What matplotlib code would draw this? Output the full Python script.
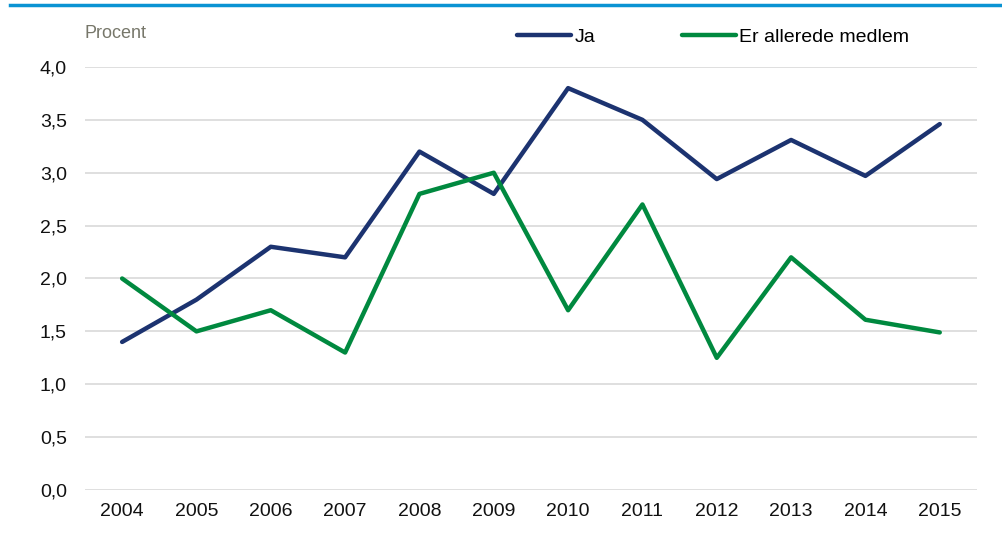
import matplotlib
matplotlib.use('Agg')
import matplotlib.pyplot as plt
from matplotlib.lines import Line2D
from matplotlib.ticker import FuncFormatter

plt.rcParams['font.family'] = ['Liberation Sans', 'DejaVu Sans']

years = ['2004', '2005', '2006', '2007', '2008', '2009',
         '2010', '2011', '2012', '2013', '2014', '2015']
ja = [1.4, 1.8, 2.3, 2.2, 3.2, 2.8, 3.8, 3.5, 2.94, 3.31, 2.97, 3.46]
medlem = [2.0, 1.5, 1.7, 1.3, 2.8, 3.0, 1.7, 2.7, 1.25, 2.2, 1.61, 1.49]
yticks = [0, 0.5, 1.0, 1.5, 2.0, 2.5, 3.0, 3.5, 4.0]

navy = '#1c3370'
green = '#00893f'

fig = plt.figure(figsize=(10.03, 5.38), dpi=100)
ax = fig.add_axes([0.0847, 0.0892, 0.8893, 0.7863])

x = range(len(years))
ax.plot(x, ja, color=navy, lw=3.2, label='Ja', solid_joinstyle='round',
        solid_capstyle='round', zorder=3)
ax.plot(x, medlem, color=green, lw=3.2, label='Er allerede medlem',
        solid_joinstyle='round', solid_capstyle='round', zorder=3)

ax.set_xlim(-0.5, len(years) - 0.5)
ax.set_ylim(0, 4.0)
ax.set_xticks(list(x))
ax.set_xticklabels(years)
ax.set_yticks(yticks)
ax.yaxis.set_major_formatter(FuncFormatter(lambda v, p: f'{v:.1f}'.replace('.', ',')))
ax.tick_params(axis='both', length=0, labelsize=14, colors='#111111')
ax.tick_params(axis='y', pad=13)
ax.tick_params(axis='x', pad=9)
ax.grid(axis='y', color='#dcdcdc', lw=1.3)
ax.set_axisbelow(True)
for s in ax.spines.values():
    s.set_visible(False)

fig.text(0.0847, 1 - 33 / 538, 'Procent', color='#77776a', fontsize=13,
         ha='left', va='center')

ax.legend(loc='center left', bbox_to_anchor=(517 / 1003, 1 - 37 / 538),
          bbox_transform=fig.transFigure, ncol=2, frameon=False,
          fontsize=14, handlelength=2.8, handletextpad=0.15,
          columnspacing=4.45, borderpad=0, borderaxespad=0)

# blue rule at the top
fig.add_artist(Line2D([10 / 1003, 1.0], [1 - 5 / 538, 1 - 5 / 538],
                      transform=fig.transFigure, color='#0a93d3', lw=2.5))

fig.savefig('out.png', dpi=100)
